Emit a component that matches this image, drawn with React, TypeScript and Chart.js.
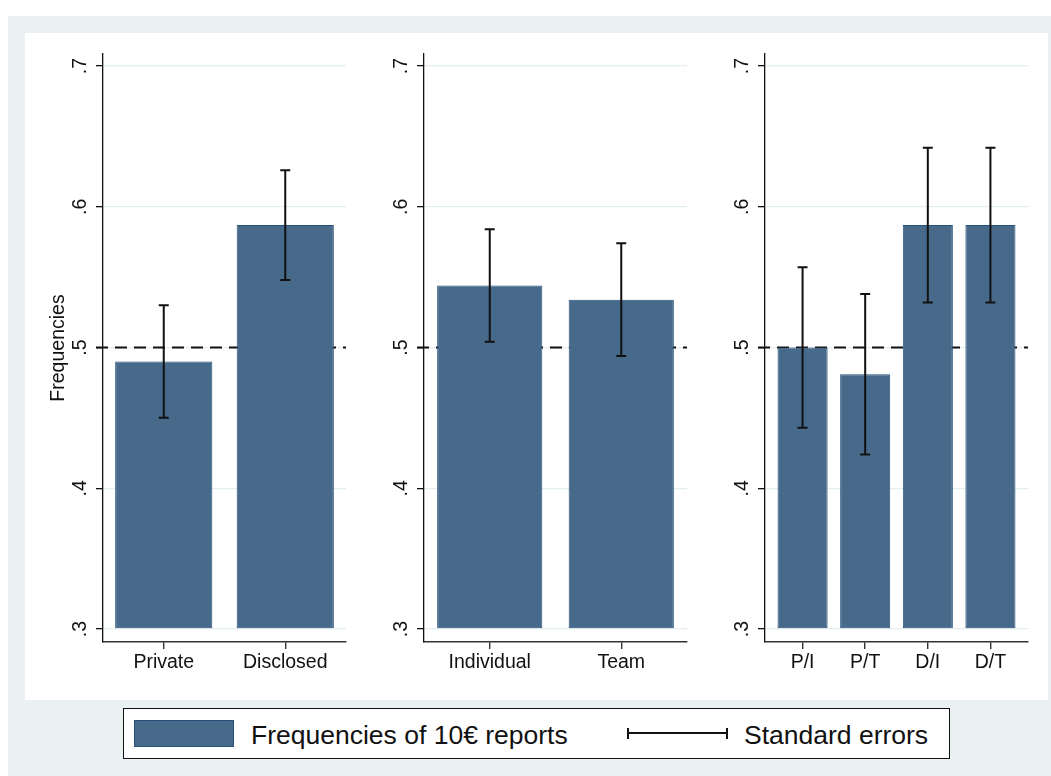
import React, { useEffect, useRef } from "react";
import { Chart, registerables } from "chart.js";

Chart.register(...registerables);

// ---------- data ----------
const yTicks = [0.3, 0.4, 0.5, 0.6, 0.7];
const yTickLabels = [".3", ".4", ".5", ".6", ".7"];
const yMin = 0.29076;
const yMax = 0.70853;
const barBase = 0.3;
const refLine = 0.5;

const cats1 = ["Private", "Disclosed"];
const freq1 = [0.49, 0.587];
const se1 = [0.04, 0.039];

const cats2 = ["Individual", "Team"];
const freq2 = [0.544, 0.534];
const se2 = [0.04, 0.04];

const cats3 = ["P/I", "P/T", "D/I", "D/T"];
const freq3 = [0.5, 0.481, 0.587, 0.587];
const se3 = [0.057, 0.057, 0.055, 0.055];

const yTitle = "Frequencies";
const legendBar = "Frequencies of 10€ reports";
const legendErr = "Standard errors";

// ---------- styles ----------
const FONT = "'Liberation Sans', Arial, Helvetica, sans-serif";
const BG = "#e9f1f3";
const BAR = "#476a8b";
const BAR_BORDER = "#24507a";
const GRID = "#e4edf0";
const INK = "#111111";

const errPlugin = {
  id: "errbars",
  beforeDatasetsDraw(chart: any, _args: any, opts: any) {
    const { ctx, chartArea } = chart;
    const y = chart.scales.y.getPixelForValue(opts.ref);
    ctx.save();
    ctx.strokeStyle = INK;
    ctx.lineWidth = 2;
    ctx.setLineDash([12, 7]);
    ctx.beginPath();
    ctx.moveTo(chartArea.left - 7, y);
    ctx.lineTo(chartArea.right, y);
    ctx.stroke();
    ctx.restore();
  },
  afterDatasetsDraw(chart: any, _args: any, opts: any) {
    const { ctx } = chart;
    const xs = chart.scales.x;
    const ys = chart.scales.y;
    const vals = chart.data.datasets[0].data;
    ctx.save();
    ctx.strokeStyle = INK;
    ctx.lineWidth = 2;
    ctx.setLineDash([]);
    for (let i = 0; i < vals.length; i++) {
      const p = vals[i];
      const s = opts.se[i];
      const x = xs.getPixelForValue(p.x);
      const yt = ys.getPixelForValue(p.y + s);
      const yb = ys.getPixelForValue(p.y - s);
      ctx.beginPath();
      ctx.moveTo(x, yt);
      ctx.lineTo(x, yb);
      ctx.moveTo(x - 5, yt);
      ctx.lineTo(x + 5, yt);
      ctx.moveTo(x - 5, yb);
      ctx.lineTo(x + 5, yb);
      ctx.stroke();
    }
    ctx.restore();
  },
};

type PanelProps = {
  left: number;
  width: number;
  axisW: number;
  rightPad: number;
  xMin: number;
  xMax: number;
  cats: string[];
  freq: number[];
  se: number[];
  title?: string;
};

function Panel(props: PanelProps) {
  const ref = useRef<HTMLCanvasElement | null>(null);
  useEffect(() => {
    const { cats, freq, se, title, axisW, rightPad, xMin, xMax } = props;
    const tickFont = { family: FONT, size: 19.5 };
    const chart = new Chart(ref.current as HTMLCanvasElement, {
      type: "bar",
      data: {
        datasets: [
          {
            data: freq.map((v, i) => ({ x: i, y: v })),
            base: barBase,
            backgroundColor: BAR,
            borderColor: BAR_BORDER,
            borderWidth: 1,
            borderSkipped: false,
            barPercentage: 0.8,
            categoryPercentage: 1,
          } as any,
        ],
      },
      options: {
        animation: false,
        responsive: false,
        events: [],
        layout: { padding: { top: 21, right: rightPad, bottom: 0, left: 0 } },
        plugins: {
          legend: { display: false },
          tooltip: { enabled: false },
          errbars: { se, ref: refLine },
        } as any,
        scales: {
          x: {
            type: "linear",
            min: xMin,
            max: xMax,
            offset: false,
            afterBuildTicks: (s: any) => {
              s.ticks = cats.map((_, i) => ({ value: i }));
            },
            afterFit: (s: any) => {
              s.height = 58;
            },
            ticks: {
              callback: (_v: any, i: number) => cats[i],
              font: tickFont,
              color: INK,
              padding: 2,
              minRotation: 0,
              maxRotation: 0,
              autoSkip: false,
            },
            grid: {
              display: true,
              drawOnChartArea: false,
              offset: false,
              tickColor: "#333",
              tickLength: 7,
              lineWidth: 1.4,
            },
            border: { color: "#333", width: 1.5 },
          },
          y: {
            type: "linear",
            min: yMin,
            max: yMax,
            beginAtZero: false,
            afterBuildTicks: (s: any) => {
              s.ticks = yTicks.map((v) => ({ value: v }));
            },
            afterFit: (s: any) => {
              s.width = axisW;
            },
            ticks: {
              callback: (_v: any, i: number) => yTickLabels[i],
              font: tickFont,
              color: INK,
              padding: 7,
              minRotation: 90,
              maxRotation: 90,
              crossAlign: "center",
            },
            grid: {
              color: GRID,
              tickColor: INK,
              tickLength: 7,
              lineWidth: 1.3,
            },
            border: { color: INK, width: 1.3 },
            title: {
              display: !!title,
              text: title || "",
              font: { family: FONT, size: 19.5 },
              color: INK,
              padding: { top: 22, bottom: 0 },
            },
          },
        },
      } as any,
      plugins: [errPlugin as any],
    });
    return () => chart.destroy();
  }, []);
  return (
    <canvas
      ref={ref}
      width={props.width}
      height={667}
      style={{ position: "absolute", left: props.left, top: 33 }}
    />
  );
}

export default function App() {
  const textStyle: React.CSSProperties = {
    position: "absolute",
    top: 722,
    fontFamily: FONT,
    fontSize: 26.5,
    lineHeight: "26.5px",
    color: INK,
    whiteSpace: "nowrap",
  };
  return (
    <>
      <style>{"html,body{overflow:hidden;}"}</style>
      <div
        style={{
          position: "absolute",
          left: 8,
          top: 16,
          width: 1043,
          height: 760,
          background: BG,
        }}
      />
      <div
        style={{
          position: "absolute",
          left: 25,
          top: 33,
          width: 1023,
          height: 667,
          background: "#ffffff",
        }}
      />
      <Panel left={25} width={325} axisW={78} rightPad={4} xMin={-0.5} xMax={1.5} cats={cats1} freq={freq1} se={se1} title={yTitle} />
      <Panel left={355} width={340} axisW={69} rightPad={8} xMin={-0.5} xMax={1.5} cats={cats2} freq={freq2} se={se2} />
      <Panel left={697} width={340} axisW={68} rightPad={9} xMin={-0.6} xMax={3.6} cats={cats3} freq={freq3} se={se3} />
      {/* legend */}
      <div
        style={{
          position: "absolute",
          left: 123,
          top: 708,
          width: 827,
          height: 51,
          border: `1.5px solid ${INK}`,
          boxSizing: "border-box",
          background: "#ffffff",
        }}
      />
      <div
        style={{
          position: "absolute",
          left: 134,
          top: 720,
          width: 100,
          height: 27,
          background: BAR,
          border: `1px solid ${BAR_BORDER}`,
          boxSizing: "border-box",
        }}
      />
      <div style={{ ...textStyle, left: 251 }}>{legendBar}</div>
      <div style={{ position: "absolute", left: 627, top: 732, width: 101, height: 2, background: INK }} />
      <div style={{ position: "absolute", left: 627, top: 728, width: 2, height: 11, background: INK }} />
      <div style={{ position: "absolute", left: 726, top: 728, width: 2, height: 11, background: INK }} />
      <div style={{ ...textStyle, left: 744 }}>{legendErr}</div>
    </>
  );
}
